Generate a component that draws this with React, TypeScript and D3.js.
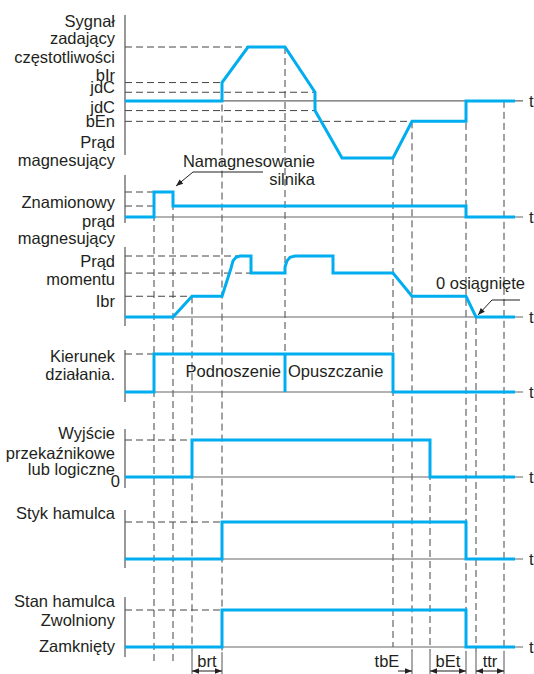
import * as d3 from 'd3'

// time axis (ms) shared by every trace
const tEnd = 390

// Sygnał zadający częstotliwości (Hz)
const freqT = [0, 97, 97, 123, 160, 190, 190, 217, 268, 287, 341, 341, 390]
const freqV = [0, 0, 17, 50, 50, 8, -9, -53, -53, -19, -19, 0, 0]
const freqLevels = [[50, 160], [17, 97], [8, 190], [-9, 190], [-19, 287]]
const freqLabels = ['Sygnał', 'zadający', 'częstotliwości', 'bIr', 'jdC', 'jdC', 'bEn', 'Prąd', 'magnesujący']

// Znamionowy prąd magnesujący
const magT = [0, 29, 29, 48, 48, 341, 341, 390]
const magV = [0, 0, 1, 1, 0.44, 0.44, 0, 0]
const magLevels = [[1, 48], [0.44, 29]]

// Prąd momentu
const torqT = [0, 48, 67, 97, 106, 108, 111, 115, 126, 126, 160, 160, 162, 165, 170, 208, 208, 268, 287, 341, 351, 390]
const torqV = [0, 0, 0.34, 0.34, 0.8, 0.92, 0.98, 1, 1, 0.72, 0.72, 0.82, 0.92, 0.98, 1, 1, 0.72, 0.72, 0.34, 0.34, 0, 0]
const torqLevels = [[1, 115], [0.72, 126], [0.34, 67]]

// binary traces
const dirT = [0, 29, 29, 268, 268, 390]
const dirV = [0, 0, 1, 1, 0, 0]
const relT = [0, 67, 67, 305, 305, 390]
const relV = [0, 0, 1, 1, 0, 0]
const brakeT = [0, 97, 97, 341, 341, 390]
const brakeV = [0, 0, 1, 1, 0, 0]

const W = 534
const H = 674
const blue = '#00aeef'
const font = 'Liberation Sans, Arial, sans-serif'
const fs = 16.5

const x = d3.scaleLinear().domain([0, tEnd]).range([125, 515])
const x0 = x(0)

const freqY = d3.scaleLinear().domain([-53, 50]).range([158, 47])
const magY = d3.scaleLinear().domain([0, 1]).range([217, 192])
const torqY = d3.scaleLinear().domain([0, 1]).range([317, 256])
const dirY = d3.scaleLinear().domain([0, 1]).range([392, 354])
const relY = d3.scaleLinear().domain([0, 1]).range([477, 440])
const stykY = d3.scaleLinear().domain([0, 1]).range([559, 522])
const stanY = d3.scaleLinear().domain([0, 1]).range([647, 610])

const panels = [
  { y: freqY, axis: [15, 155], t: freqT, v: freqV, levels: freqLevels },
  { y: magY, axis: [175, 223], t: magT, v: magV, levels: magLevels },
  { y: torqY, axis: [247, 326], t: torqT, v: torqV, levels: torqLevels },
  { y: dirY, axis: [350, 402], t: dirT, v: dirV, levels: [[1, 29]] },
  { y: relY, axis: [429, 488], t: relT, v: relV, levels: [[1, 67]] },
  { y: stykY, axis: [510, 568], t: brakeT, v: brakeV, levels: [[1, 97]] },
  { y: stanY, axis: [597, 657], t: brakeT, v: brakeV, levels: [[1, 97]] },
]

// vertical guide lines: time, top, bottom, solid tail
const guides = [
  { t: 29, top: magY(1), bottom: 664, tail: false },
  { t: 48, top: magY(1), bottom: 664, tail: false },
  { t: 67, top: torqY(0.34), bottom: H, tail: true },
  { t: 97, top: freqY(17), bottom: H, tail: true },
  { t: 160, top: freqY(50), bottom: dirY(1), tail: false },
  { t: 268, top: freqY(-53), bottom: stanY(0), tail: false },
  { t: 287, top: freqY(-19), bottom: H, tail: true },
  { t: 305, top: relY(1), bottom: H, tail: true },
  { t: 341, top: freqY(0), bottom: H, tail: true },
  { t: 351, top: torqY(0), bottom: H, tail: true },
  { t: 379, top: freqY(0), bottom: H, tail: true },
]

const intervals = [
  { label: 'brt', a: 67, b: 97, both: true },
  { label: 'tbE', a: 273, b: 287, both: false },
  { label: 'bEt', a: 305, b: 341, both: true },
  { label: 'ttr', a: 351, b: 379, both: true },
]

const Label = ({ x: lx, y: ly, text, anchor = 'end' }) => (
  <text x={lx} y={ly} textAnchor={anchor} fontFamily={font} fontSize={fs} fill="#231f20">{text}</text>
)

export default function App() {
  const line = d3.line<[number, number]>()

  return (
    <svg width={W} height={H} style={{ position: 'absolute', left: 0, top: 0, background: '#fff' }}>
      <defs>
        <marker id="ah" viewBox="0 0 10 10" refX="10" refY="5" markerWidth="8" markerHeight="7" markerUnits="userSpaceOnUse" orient="auto-start-reverse">
          <path d="M0,1 L10,5 L0,9 Z" fill="#231f20" />
        </marker>
      </defs>

      {/* guides */}
      {guides.map((g, i) => (
        <g key={i}>
          <line x1={x(g.t)} x2={x(g.t)} y1={g.top} y2={g.tail ? 652 : g.bottom}
            stroke="#444" strokeWidth={1} strokeDasharray="7,4" />
          {g.tail && <line x1={x(g.t)} x2={x(g.t)} y1={652} y2={H} stroke="#555" strokeWidth={1} />}
        </g>
      ))}

      {panels.map((p, i) => (
        <g key={i}>
          {p.levels.map(([v, t], j) => (
            <line key={j} x1={x0} x2={x(t)} y1={p.y(v)} y2={p.y(v)} stroke="#444" strokeWidth={1} strokeDasharray="7,4" />
          ))}
          <line x1={x0} x2={x0} y1={p.axis[0]} y2={p.axis[1]} stroke="#555" strokeWidth={1.2} />
          <line x1={x0} x2={523} y1={p.y(0)} y2={p.y(0)} stroke="#666" strokeWidth={1.2} />
          <text x={529} y={p.y(0) + 6} fontFamily={font} fontSize={fs} fill="#231f20">t</text>
          <path d={line(p.t.map((t, k) => [x(t), p.y(p.v[k])]))} fill="none" stroke={blue} strokeWidth={3} strokeLinejoin="miter" />
        </g>
      ))}

      {/* Podnoszenie / Opuszczanie divider */}
      <line x1={x(160)} x2={x(160)} y1={dirY(0)} y2={dirY(1)} stroke={blue} strokeWidth={3} />

      {/* labels, panel 1 */}
      {freqLabels.map((s, i) => (
        <Label key={i} x={115} y={[27, 44, 63, 81, 93, 113, 127, 148, 166][i]} text={s} />
      ))}
      <Label x={115} y={208} text="Znamionowy" />
      <Label x={115} y={227} text="prąd" />
      <Label x={115} y={244} text="magnesujący" />
      <Label x={115} y={267} text="Prąd" />
      <Label x={115} y={285} text="momentu" />
      <Label x={115} y={307} text="Ibr" />
      <Label x={115} y={362} text="Kierunek" />
      <Label x={115} y={380} text="działania." />
      <Label x={x(160) - 4} y={377} text="Podnoszenie" />
      <Label x={x(160) + 3} y={377} text="Opuszczanie" anchor="start" />
      <Label x={115} y={439} text="Wyjście" />
      <Label x={115} y={459} text="przekaźnikowe" />
      <Label x={115} y={475} text="lub logiczne" />
      <Label x={120} y={487} text="0" />
      <Label x={115} y={519} text="Styk hamulca" />
      <Label x={115} y={607} text="Stan hamulca" />
      <Label x={115} y={626} text="Zwolniony" />
      <Label x={115} y={652} text="Zamknięty" />

      {/* annotations */}
      <Label x={315} y={167} text="Namagnesowanie" />
      <Label x={315} y={185} text="silnika" />
      <polyline points={`263,172 193,172 ${x(48) + 3},${magY(1) - 6}`} fill="none" stroke="#231f20" strokeWidth={1} markerEnd="url(#ah)" />
      <Label x={436} y={289} text="0 osiągnięte" anchor="start" />
      <polyline points={`520,300 492,300 ${x(351) + 2},${torqY(0) - 2}`} fill="none" stroke="#231f20" strokeWidth={1} markerEnd="url(#ah)" />

      {intervals.map((iv, i) => (
        <g key={i}>
          <line x1={x(iv.a)} x2={x(iv.b)} y1={671} y2={671} stroke="#231f20" strokeWidth={1}
            markerEnd="url(#ah)" markerStart={iv.both ? 'url(#ah)' : undefined} />
          <text x={iv.both ? (x(iv.a) + x(iv.b)) / 2 : x(iv.a) - 11} y={667} textAnchor="middle" fontFamily={font} fontSize={fs} fill="#231f20">{iv.label}</text>
        </g>
      ))}
    </svg>
  )
}
